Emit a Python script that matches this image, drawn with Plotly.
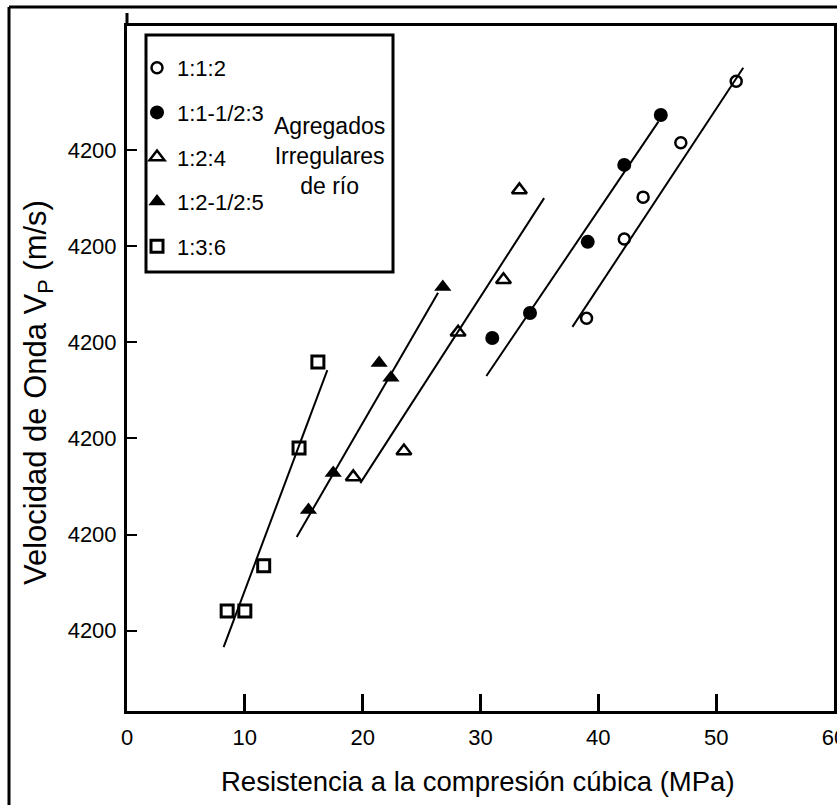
import plotly.graph_objects as go

# ---- data ----
series_names = ["1:1:2", "1:1-1/2:3", "1:2:4", "1:2-1/2:5", "1:3:6"]

x_112 = [51.7, 47.0, 43.8, 42.2, 39.0]
y_112 = [4943, 4815, 4702, 4615, 4450]
fit_x_112 = [37.8, 52.3]
fit_y_112 = [4432, 4971]

x_1153 = [45.3, 42.2, 39.1, 34.2, 31.0]
y_1153 = [4873, 4769, 4609, 4461, 4409]
fit_x_1153 = [30.5, 45.1]
fit_y_1153 = [4330, 4859]

x_124 = [33.3, 31.95, 28.1, 23.5, 19.2]
y_124 = [4717, 4530, 4421, 4174, 4120]
fit_x_124 = [19.8, 35.4]
fit_y_124 = [4107, 4700]

x_12155 = [26.8, 21.4, 22.4, 17.5, 15.4]
y_12155 = [4515, 4357, 4326, 4128, 4051]
fit_x_12155 = [14.4, 26.4]
fit_y_12155 = [3995, 4503]

x_136 = [16.2, 14.6, 11.6, 10.0, 8.5]
y_136 = [4359, 4180, 3935, 3841, 3841]
fit_x_136 = [8.2, 17.0]
fit_y_136 = [3766, 4342]

y_tickvals = [3800, 4000, 4200, 4400, 4600, 4800]
y_ticktext = ["4200", "4200", "4200", "4200", "4200", "4200"]
x_tickvals = [0, 10, 20, 30, 40, 50, 60]

x_title = "Resistencia a la compresión cúbica (MPa)"
y_title = "Velocidad de Onda V<sub>P</sub> (m/s)"
group_note = "Agregados<br>Irregulares<br>de río"

FONT = "Liberation Sans, Arial, sans-serif"

fig = go.Figure()

series = [
    (series_names[0], x_112, y_112, fit_x_112, fit_y_112, dict(symbol="circle-open", size=11, color="black", line=dict(width=2.5, color="black"))),
    (series_names[1], x_1153, y_1153, fit_x_1153, fit_y_1153, dict(symbol="circle", size=14, color="black")),
    (series_names[2], x_124, y_124, fit_x_124, fit_y_124, dict(symbol="triangle-up-open", size=13, color="black", line=dict(width=2.5, color="black"))),
    (series_names[3], x_12155, y_12155, fit_x_12155, fit_y_12155, dict(symbol="triangle-up", size=15, color="black")),
    (series_names[4], x_136, y_136, fit_x_136, fit_y_136, dict(symbol="square-open", size=12, color="black", line=dict(width=3, color="black"))),
]

for i, (name, xs, ys, fx, fy, mk) in enumerate(series):
    fig.add_trace(go.Scatter(x=fx, y=fy, mode="lines", line=dict(color="black", width=2),
                             showlegend=False, hoverinfo="skip"))
    fig.add_trace(go.Scatter(x=xs, y=ys, mode="markers", marker=mk, name=name,
                             legendgroup=f"g{i}", showlegend=True))

W, H = 837, 805
ml, mr, mt, mb = 127, 3, 26, 94
pw = W - ml - mr
ph = H - mt - mb

def px2x(px):
    return (px - ml) / pw

def py2y(py):
    return (H - mb - py) / ph

shapes = [
    # legend box
    dict(type="rect", xref="paper", yref="paper", x0=px2x(146), x1=px2x(393), y0=py2y(272), y1=py2y(35),
         line=dict(color="black", width=3), fillcolor="rgba(0,0,0,0)"),
    # outer image frame (top and left)
    dict(type="line", xref="paper", yref="paper", x0=px2x(9), x1=px2x(837), y0=py2y(7), y1=py2y(7),
         line=dict(color="black", width=3)),
    dict(type="line", xref="paper", yref="paper", x0=px2x(9), x1=px2x(9), y0=py2y(7), y1=py2y(805),
         line=dict(color="black", width=3)),
    # left axis extends slightly above plot top
    dict(type="line", xref="paper", yref="paper", x0=0, x1=0, y0=1, y1=py2y(13),
         line=dict(color="black", width=3)),
]

annotations = [
    dict(text=group_note, xref="paper", yref="paper", x=px2x(329), y=py2y(156),
         xanchor="center", yanchor="middle", showarrow=False, align="center",
         font=dict(size=23, family=FONT, color="black")),
    dict(text=x_title, xref="paper", yref="paper", x=px2x(478), y=py2y(781),
         xanchor="center", yanchor="middle", showarrow=False,
         font=dict(size=27.5, family=FONT, color="black")),
    dict(text=y_title, xref="paper", yref="paper", x=px2x(38), y=py2y(393),
         xanchor="center", yanchor="middle", showarrow=False, textangle=-90,
         font=dict(size=31, family=FONT, color="black")),
]

fig.update_layout(
    width=W, height=H,
    margin=dict(l=ml, r=mr, t=mt, b=mb, autoexpand=False),
    paper_bgcolor="white", plot_bgcolor="white",
    font=dict(family=FONT, color="black", size=22),
    showlegend=True,
    legend=dict(x=px2x(137), y=py2y(47), xanchor="left", yanchor="top",
                bgcolor="rgba(0,0,0,0)", borderwidth=0,
                font=dict(size=22, family=FONT, color="black"),
                traceorder="grouped", tracegroupgap=13, itemwidth=30),
    shapes=shapes,
    annotations=annotations,
)

fig.update_xaxes(range=[0, 60], tickvals=x_tickvals, ticks="inside", ticklen=17, tickwidth=3,
                 tickcolor="black", showline=True, linecolor="black", linewidth=3, mirror=True,
                 showgrid=False, zeroline=False, tickfont=dict(size=22), automargin=False,
                 ticklabelstandoff=5, ticklabeloverflow="allow")

fig.update_yaxes(range=[3633, 5058], tickvals=y_tickvals, ticktext=y_ticktext, ticks="inside", ticklen=10,
                 tickwidth=2, tickcolor="black", showline=True, linecolor="black", linewidth=3, mirror=True,
                 showgrid=False, zeroline=False, tickfont=dict(size=22), automargin=False,
                 ticklabelstandoff=3, ticklabeloverflow="allow")

fig.write_html("out.html",
               config={"displayModeBar": False},
               post_script="document.body.style.margin='0';document.body.style.padding='0';document.body.style.overflow='hidden';")
